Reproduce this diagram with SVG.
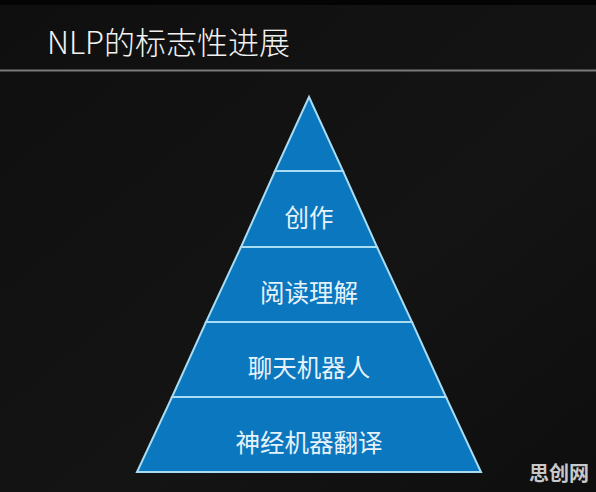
<svg xmlns="http://www.w3.org/2000/svg" width="596" height="492" viewBox="0 0 596 492">
<defs>
<style>
.band{fill:#0b77bf;stroke:#a8dcf2;stroke-width:2;stroke-linejoin:miter}
.lbl{font-family:"Noto Sans CJK SC","Noto Sans",sans-serif;font-size:24.5px;fill:#e6f2fa;text-anchor:middle;dominant-baseline:central}
</style>
<linearGradient id="bg" x1="0" y1="0" x2="1" y2="1">
<stop offset="0" stop-color="#0f0f0f"/>
<stop offset="0.6" stop-color="#141414"/>
<stop offset="1" stop-color="#0e0e0e"/>
</linearGradient>
</defs>
<rect x="0" y="0" width="596" height="492" fill="url(#bg)"/>
<rect x="0" y="0" width="596" height="5" fill="#040404"/>
<line x1="0" y1="70.5" x2="596" y2="70.5" stroke="#7a7a7a" stroke-width="2"/>
<text x="47" y="54" font-family="'Noto Sans CJK SC','Noto Sans',sans-serif" font-size="31" font-weight="300" fill="#f2f2f2">NLP的标志性进展</text>
<g id="connectors"></g>
<g id="level5"><polygon class="band" points="309,97 343,171 275,171"/></g>
<g id="level4"><polygon class="band" points="275,171 343,171 377,247 241,247"/><text class="lbl" x="309" y="216">创作</text></g>
<g id="level3"><polygon class="band" points="241,247 377,247 412,322 206,322"/><text class="lbl" x="309" y="291">阅读理解</text></g>
<g id="level2"><polygon class="band" points="206,322 412,322 446,397 172,397"/><text class="lbl" x="309" y="366">聊天机器人</text></g>
<g id="level1"><polygon class="band" points="172,397 446,397 481,472 137,472"/><text class="lbl" x="309" y="441">神经机器翻译</text></g>
<text x="559" y="481" font-family="'Noto Sans CJK SC',sans-serif" font-size="20" font-weight="bold" fill="#c8c8c8" text-anchor="middle">思创网</text>
</svg>
